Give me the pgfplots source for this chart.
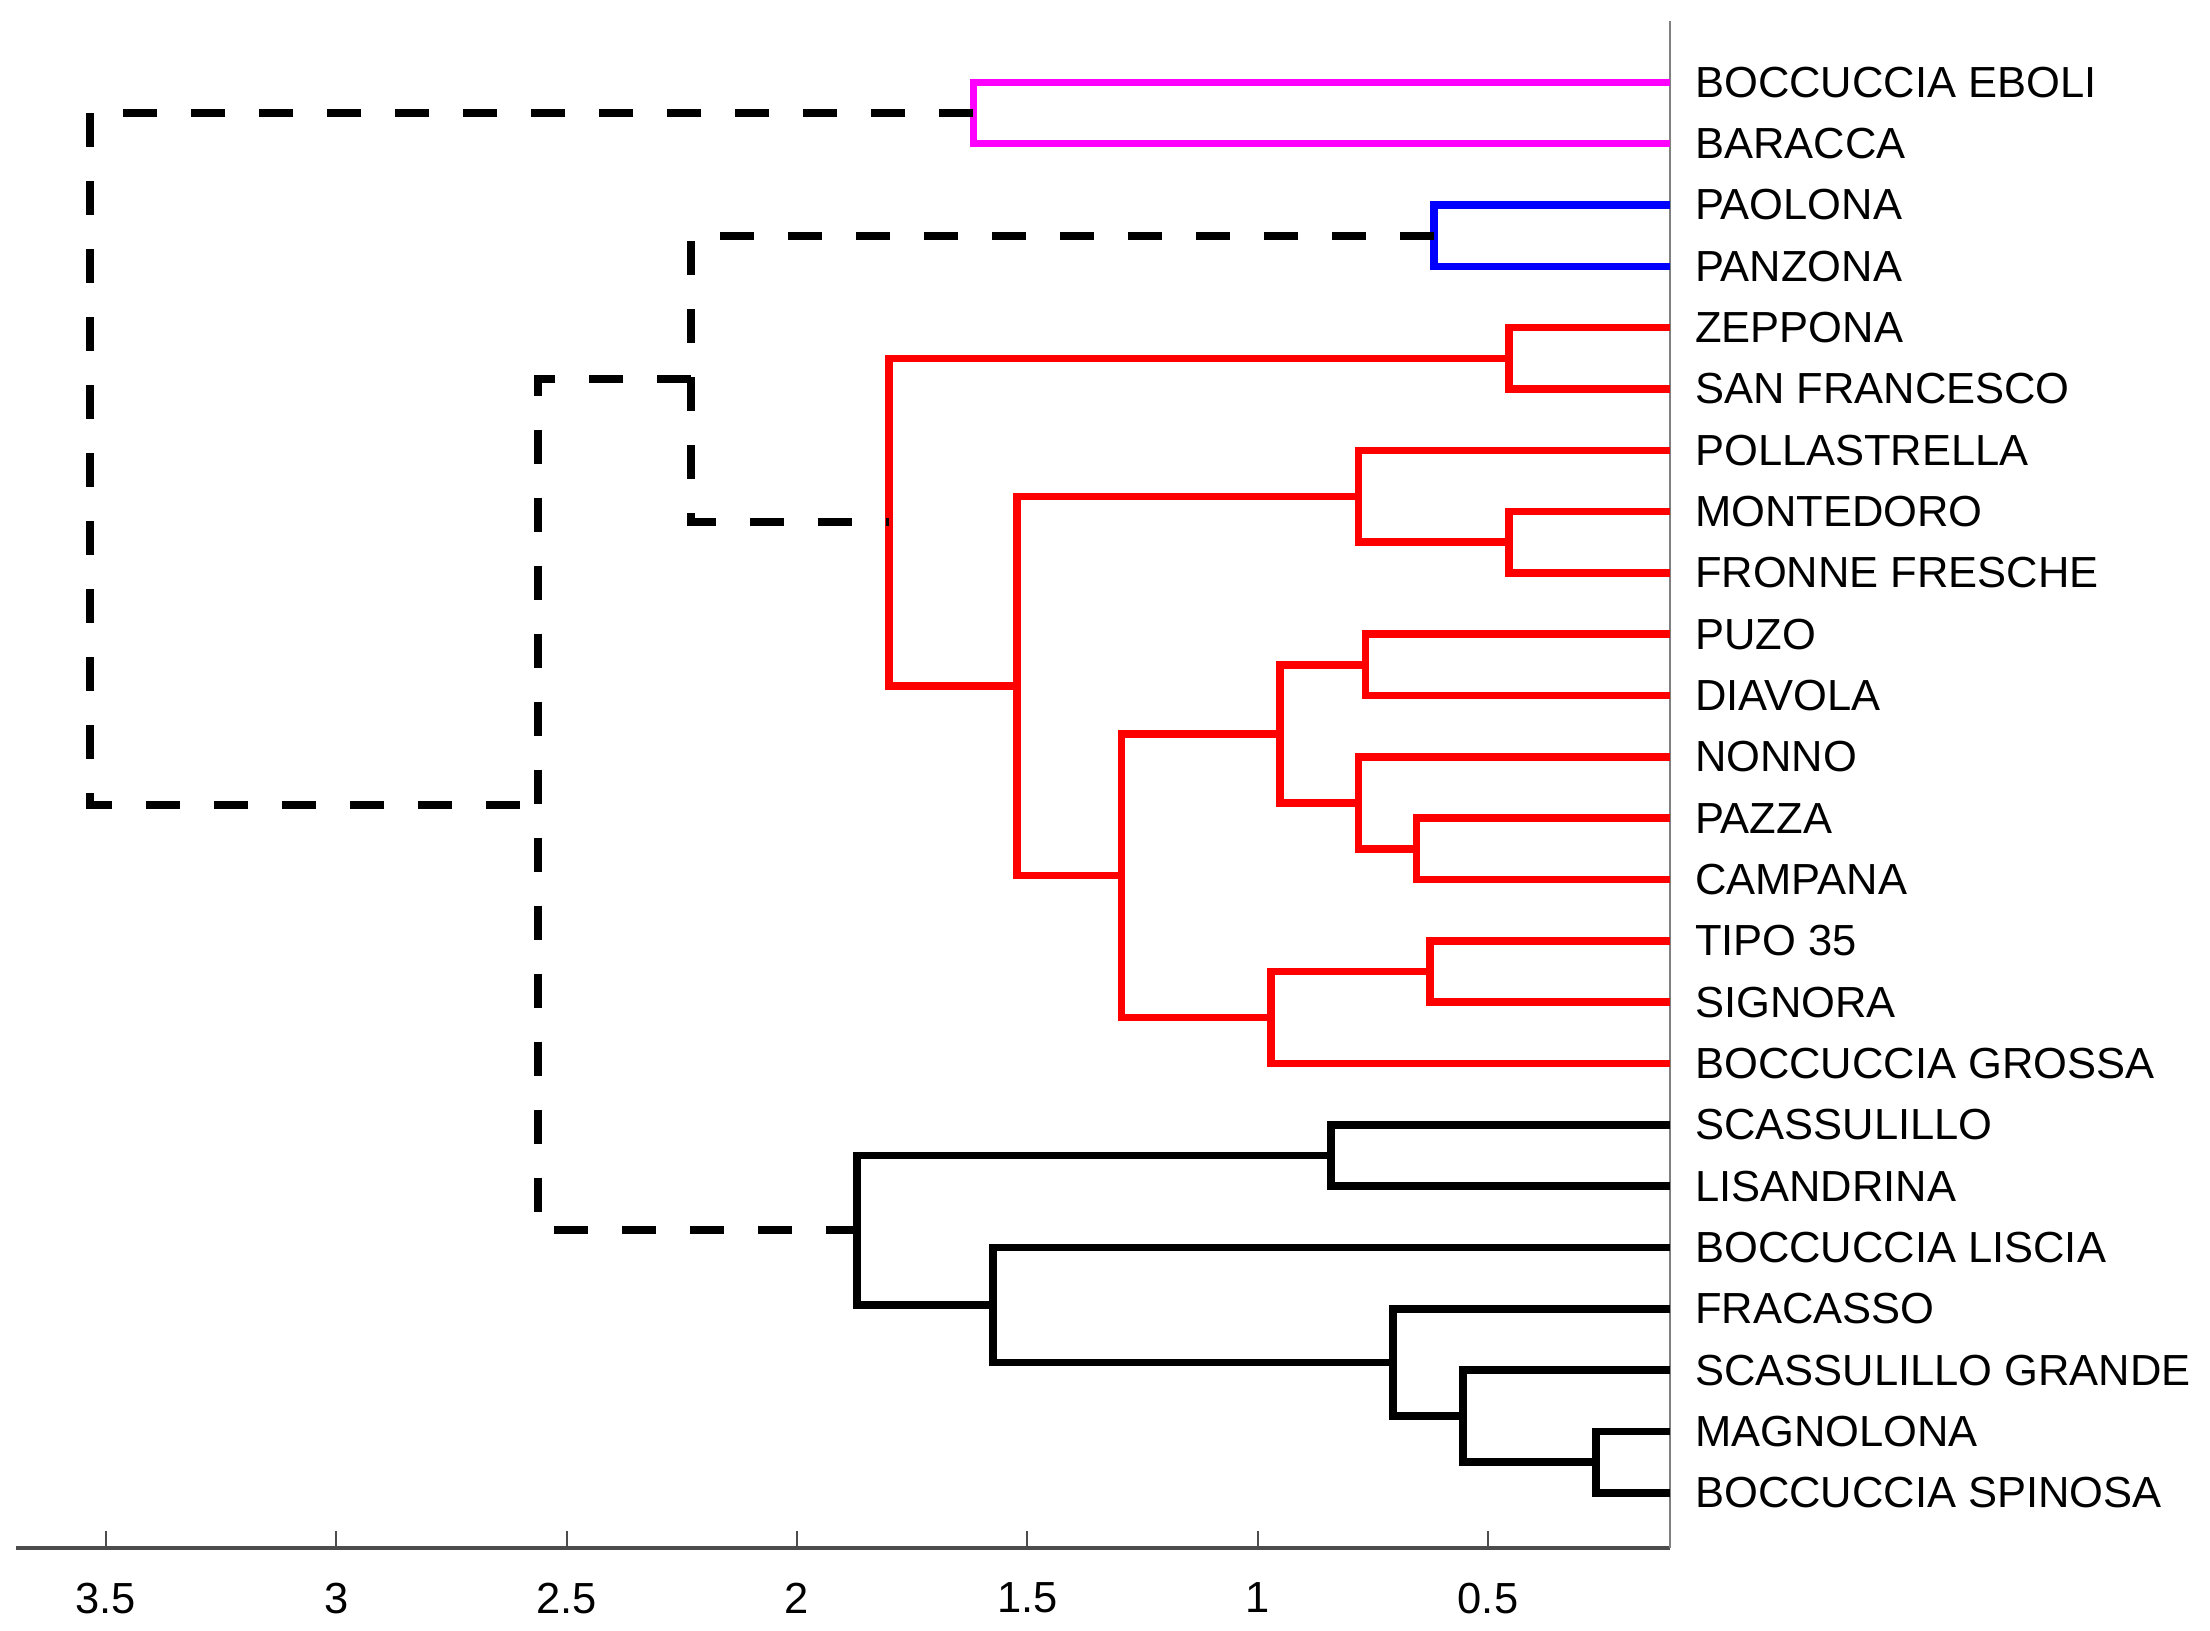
\documentclass[border=0pt]{standalone}
\usepackage{fontspec}
\setmainfont{Liberation Sans}
\usepackage{pgfplots}
\pgfplotsset{compat=1.18}

\definecolor{cmag}{RGB}{255,0,255}
\definecolor{cblue}{RGB}{0,0,255}
\definecolor{cred}{RGB}{255,0,0}

\begin{document}
\begin{tikzpicture}
\begin{axis}[
    scale only axis,
    width=330.8pt, height=305.4pt,
    x dir=reverse,
    xmin=0.105, xmax=3.695,
    ymin=0.1, ymax=25,
    clip=false,
    axis x line*=bottom,
    axis y line*=right,
    x axis line style={line width=0.9pt, color=black!70, -},
    y axis line style={line width=0.5pt, color=black!50, -},
    xtick={0.5,1,1.5,2,2.5,3,3.5},
    tick align=inside,
    x tick style={black!70, line width=0.4pt},
    major tick length=3.4pt,
    xticklabel shift=3.4pt,
    ytick={1,...,24},
    y tick style={draw=none},
    yticklabel pos=right,
    yticklabel shift=1.5pt,
    yticklabels={BOCCUCCIA SPINOSA, MAGNOLONA, SCASSULILLO GRANDE, FRACASSO,
        BOCCUCCIA LISCIA, LISANDRINA, SCASSULILLO, BOCCUCCIA GROSSA, SIGNORA,
        TIPO 35, CAMPANA, PAZZA, NONNO, DIAVOLA, PUZO, FRONNE FRESCHE,
        MONTEDORO, POLLASTRELLA, SAN FRANCESCO, ZEPPONA, PANZONA, PAOLONA,
        BARACCA, BOCCUCCIA EBOLI},
    ticklabel style={font=\fontsize{8.7}{10}\selectfont, black},
    yticklabel style={anchor=west},
    /pgf/number format/assume math mode=true,
    every axis plot/.append style={line width=1.5pt, line join=miter, mark=none},
]
% magenta cluster
\addplot[cmag] coordinates {(0.105,24) (1.617,24) (1.617,23) (0.105,23)};
% blue cluster
\addplot[cblue] coordinates {(0.105,22) (0.617,22) (0.617,21) (0.105,21)};
% red cluster
\addplot[cred] coordinates {(0.105,20) (0.454,20) (0.454,19) (0.105,19)};
\addplot[cred] coordinates {(0.105,17) (0.454,17) (0.454,16) (0.105,16)};
\addplot[cred] coordinates {(0.105,18) (0.781,18) (0.781,16.5) (0.454,16.5)};
\addplot[cred] coordinates {(0.105,15) (0.766,15) (0.766,14) (0.105,14)};
\addplot[cred] coordinates {(0.105,12) (0.655,12) (0.655,11) (0.105,11)};
\addplot[cred] coordinates {(0.105,13) (0.781,13) (0.781,11.5) (0.655,11.5)};
\addplot[cred] coordinates {(0.766,14.5) (0.951,14.5) (0.951,12.25) (0.781,12.25)};
\addplot[cred] coordinates {(0.105,10) (0.626,10) (0.626,9) (0.105,9)};
\addplot[cred] coordinates {(0.626,9.5) (0.971,9.5) (0.971,8) (0.105,8)};
\addplot[cred] coordinates {(0.951,13.375) (1.295,13.375) (1.295,8.75) (0.971,8.75)};
\addplot[cred] coordinates {(0.781,17.25) (1.522,17.25) (1.522,11.0625) (1.295,11.0625)};
\addplot[cred] coordinates {(0.454,19.5) (1.800,19.5) (1.800,14.15625) (1.522,14.15625)};
% black cluster
\addplot[black] coordinates {(0.105,7) (0.841,7) (0.841,6) (0.105,6)};
\addplot[black] coordinates {(0.105,2) (0.266,2) (0.266,1) (0.105,1)};
\addplot[black] coordinates {(0.105,3) (0.554,3) (0.554,1.5) (0.266,1.5)};
\addplot[black] coordinates {(0.105,4) (0.706,4) (0.706,2.25) (0.554,2.25)};
\addplot[black] coordinates {(0.105,5) (1.574,5) (1.574,3.125) (0.706,3.125)};
\addplot[black] coordinates {(0.841,6.5) (1.870,6.5) (1.870,4.0625) (1.574,4.0625)};
% links above the cut
\addplot[black, line width=1.6pt, dash pattern=on 6.8pt off 6.8pt] coordinates {(0.617,21.5) (2.229,21.5) (2.229,16.828125) (1.800,16.828125)};
\addplot[black, line width=1.6pt, dash pattern=on 6.8pt off 6.8pt] coordinates {(2.229,19.1640625) (2.561,19.1640625) (2.561,5.28125) (1.870,5.28125)};
\addplot[black, line width=1.6pt, dash pattern=on 6.8pt off 6.8pt] coordinates {(1.617,23.5) (3.535,23.5) (3.535,12.22265625) (2.561,12.22265625)};
% page margins
\path (rel axis cs:0,1) ++(-3.2pt,4.2pt);
\path (rel axis cs:1,0) ++(108pt,-16.6pt);
\end{axis}
\end{tikzpicture}
\end{document}
